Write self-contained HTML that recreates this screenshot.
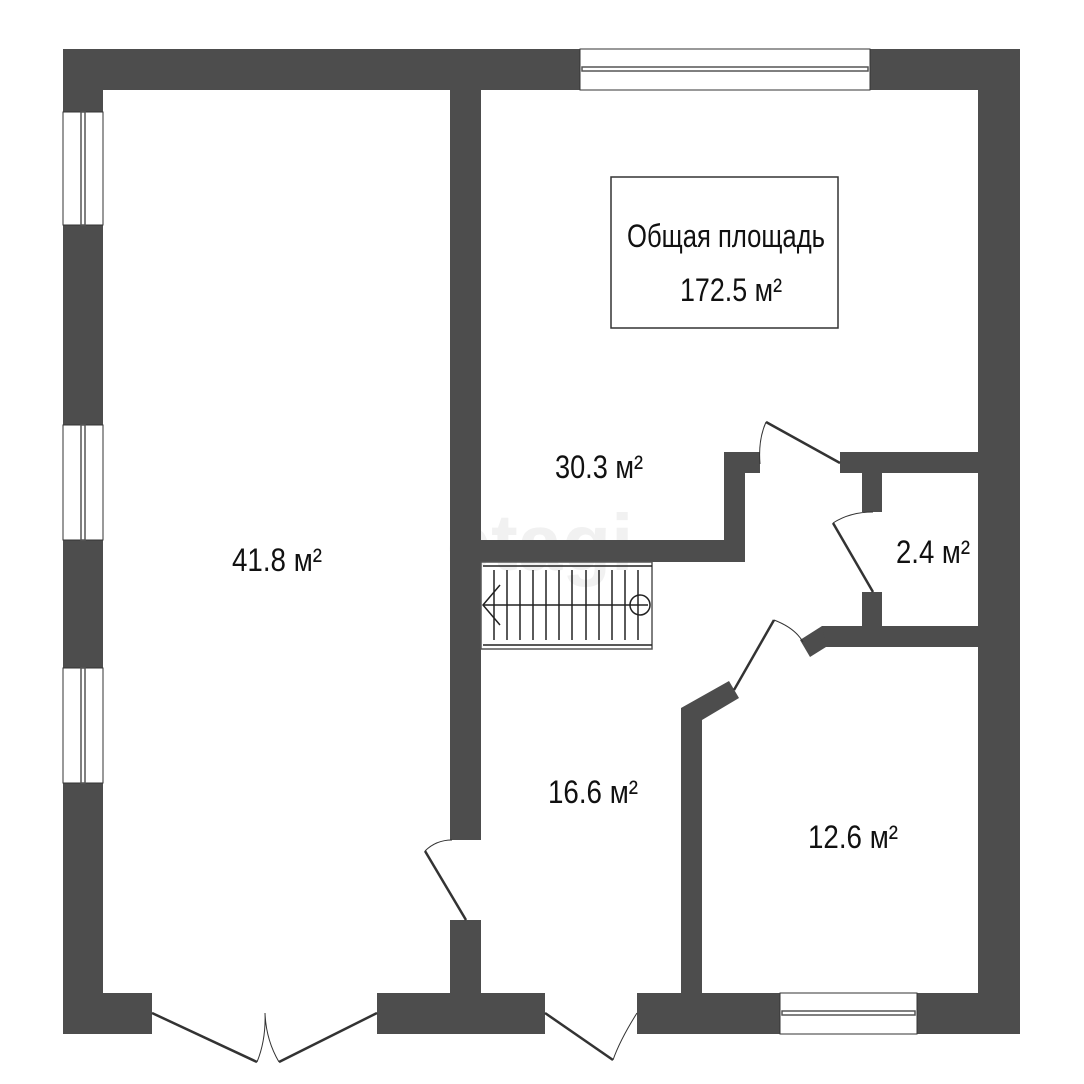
<!DOCTYPE html>
<html><head><meta charset="utf-8"><style>
html,body{margin:0;padding:0;background:#fff;}
svg{display:block;}
text{font-family:"Liberation Sans","DejaVu Sans",sans-serif;fill:#111;}
</style></head><body>
<svg width="1084" height="1084" viewBox="0 0 1084 1084" xmlns="http://www.w3.org/2000/svg">
<rect width="1084" height="1084" fill="#fff"/>
<text x="540" y="570" font-size="80" font-weight="bold" fill="#f1f1f1" style="fill:#f1f1f1" text-anchor="middle">etagi</text>
<g fill="#4d4d4d">
<rect x="63" y="49" width="517" height="41"/>
<rect x="870" y="49" width="150" height="41"/>
<rect x="63" y="49" width="40" height="985"/>
<rect x="978" y="49" width="42" height="985"/>
<rect x="63" y="993" width="89" height="41"/>
<rect x="377" y="993" width="168" height="41"/>
<rect x="637" y="993" width="143" height="41"/>
<rect x="917" y="993" width="103" height="41"/>
<rect x="450" y="90" width="31" height="750"/>
<rect x="450" y="920" width="31" height="73"/>
<rect x="481" y="540" width="264" height="22"/>
<rect x="724" y="452" width="21" height="110"/>
<rect x="724" y="452" width="36" height="21"/>
<rect x="840" y="452" width="138" height="21"/>
<rect x="862" y="473" width="20" height="39"/>
<rect x="862" y="592" width="20" height="35"/>
<rect x="822" y="626" width="156" height="21"/>
<polygon points="822,626 800,640 810,657 826,647"/>
<polygon points="681,708 729,681 739,698 702,720 702,993 681,993"/>
</g>
<g fill="#fff" stroke="#333" stroke-width="1">
<rect x="63" y="112" width="40" height="113"/>
<rect x="63" y="425" width="40" height="115"/>
<rect x="63" y="668" width="40" height="115"/>
<rect x="580" y="49" width="290" height="41"/>
<rect x="780" y="993" width="137" height="41"/>
</g>
<g fill="#fff" stroke="#555" stroke-width="1.5">
<rect x="81" y="112" width="4" height="113"/>
<rect x="81" y="425" width="4" height="115"/>
<rect x="81" y="668" width="4" height="115"/>
<rect x="582" y="67" width="286" height="4"/>
<rect x="782" y="1011" width="133" height="4"/>
</g>
<g stroke="#222" stroke-width="1.5" fill="none">
<rect x="481" y="562" width="171" height="87" stroke="#555"/>
<line x1="483" y1="566" x2="652" y2="566"/>
<line x1="483" y1="645" x2="652" y2="645"/>
<line x1="494" y1="570" x2="494" y2="640"/>
<line x1="507" y1="570" x2="507" y2="640"/>
<line x1="520" y1="570" x2="520" y2="640"/>
<line x1="533" y1="570" x2="533" y2="640"/>
<line x1="546" y1="570" x2="546" y2="640"/>
<line x1="559" y1="570" x2="559" y2="640"/>
<line x1="572" y1="570" x2="572" y2="640"/>
<line x1="586" y1="570" x2="586" y2="640"/>
<line x1="599" y1="570" x2="599" y2="640"/>
<line x1="612" y1="570" x2="612" y2="640"/>
<line x1="625" y1="570" x2="625" y2="640"/>
<line x1="638" y1="570" x2="638" y2="640"/>
<line x1="483" y1="605" x2="648" y2="605"/>
<polyline points="500,585 483,605 500,625"/>
<circle cx="640" cy="605" r="10"/>
</g>
<g stroke="#333" fill="none">
<line x1="766" y1="422" x2="840" y2="463" stroke-width="2.5"/>
<path d="M766,422 Q758,440 760,464" stroke-width="1"/>
<line x1="833" y1="523" x2="873" y2="592" stroke-width="2.5"/>
<path d="M833,523 Q850,512 873,512" stroke-width="1"/>
<line x1="734" y1="690" x2="774" y2="620" stroke-width="2.5"/>
<path d="M774,620 Q795,628 803,642" stroke-width="1"/>
<line x1="466" y1="920" x2="425" y2="851" stroke-width="2.5"/>
<path d="M425,851 Q436,840 452,840" stroke-width="1"/>
<line x1="152" y1="1013" x2="257" y2="1062" stroke-width="2.5"/>
<line x1="377" y1="1013" x2="279" y2="1062" stroke-width="2.5"/>
<path d="M257,1062 Q266,1040 265,1013 Q266,1040 279,1062" stroke-width="1"/>
<line x1="545" y1="1013" x2="613" y2="1060" stroke-width="2.5"/>
<path d="M613,1060 Q620,1040 637,1013" stroke-width="1"/>
</g>
<rect x="611" y="177" width="227" height="151" fill="#fff" stroke="#333" stroke-width="1.5"/>
<text x="627" y="247" font-size="32" textLength="198" lengthAdjust="spacingAndGlyphs">Общая площадь</text>
<text x="680" y="301" font-size="32" textLength="102" lengthAdjust="spacingAndGlyphs">172.5 м²</text>
<text x="232" y="571" font-size="32" textLength="90" lengthAdjust="spacingAndGlyphs">41.8 м²</text>
<text x="555" y="478" font-size="32" textLength="88" lengthAdjust="spacingAndGlyphs">30.3 м²</text>
<text x="896" y="563" font-size="32" textLength="74" lengthAdjust="spacingAndGlyphs">2.4 м²</text>
<text x="548" y="803" font-size="32" textLength="90" lengthAdjust="spacingAndGlyphs">16.6 м²</text>
<text x="808" y="848" font-size="32" textLength="90" lengthAdjust="spacingAndGlyphs">12.6 м²</text>
</svg>
</body></html>
